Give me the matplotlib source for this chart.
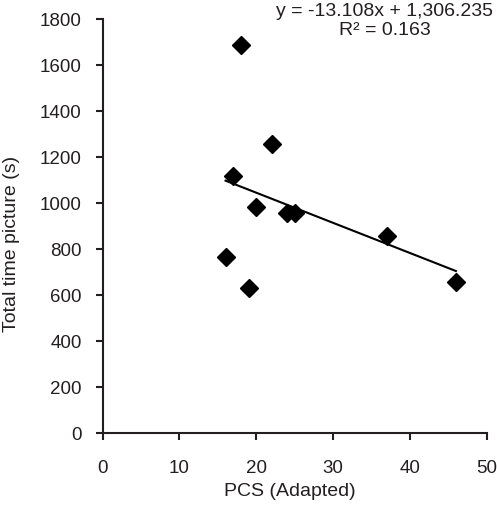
import numpy as np
import matplotlib
matplotlib.use('Agg')
import matplotlib.pyplot as plt

plt.rcParams['font.family'] = ['Liberation Sans', 'DejaVu Sans']

# PCS (Adapted) vs total time on picture
pcs = [18, 22, 17, 20, 24, 25, 37, 46, 16, 19]
total_time = [1690, 1260, 1120, 985, 960, 960, 857, 658, 765, 630]
equation = "y = -13.108x + 1,306.235\nR² = 0.163"

txt = '#231f20'
W, H = 497, 519

fig = plt.figure(figsize=(W / 100, H / 100), dpi=100)
ax = fig.add_axes([0.2066, 0.1651, 0.7725, 0.7977])

ax.plot(pcs, total_time, linestyle='none', marker='D', markersize=9,
        color='black', zorder=3)

# linear trendline
k, b = np.polyfit(pcs, total_time, 1)
xs = np.array([min(pcs), max(pcs)])
ax.plot(xs, k * xs + b, color='black', linewidth=1.5, zorder=2)

ax.set_xlim(0, 50)
ax.set_ylim(0, 1800)
ax.set_xticks(range(0, 51, 10))
ax.set_yticks(range(0, 1801, 200))

for side in ['top', 'right']:
    ax.spines[side].set_visible(False)
for side in ['left', 'bottom']:
    ax.spines[side].set_linewidth(1.5)
    ax.spines[side].set_color(txt)
ax.tick_params(direction='out', length=5, width=1.5, colors=txt,
               labelsize=13.5)
ax.tick_params(axis='y', pad=10)
ax.tick_params(axis='x', pad=14)

fig.text(290 / W, 1 - 492 / H, 'PCS (Adapted)', ha='center', va='center',
         fontsize=14, color=txt)
fig.text(12 / W, 1 - 244 / H, 'Total time picture (s)', ha='center',
         va='center', rotation=90, fontsize=14, color=txt)

fig.text(385 / W, 1 - 21 / H, equation, ha='center', va='center',
         fontsize=14, color=txt, linespacing=1.08)

fig.savefig('out.png', dpi=100)
